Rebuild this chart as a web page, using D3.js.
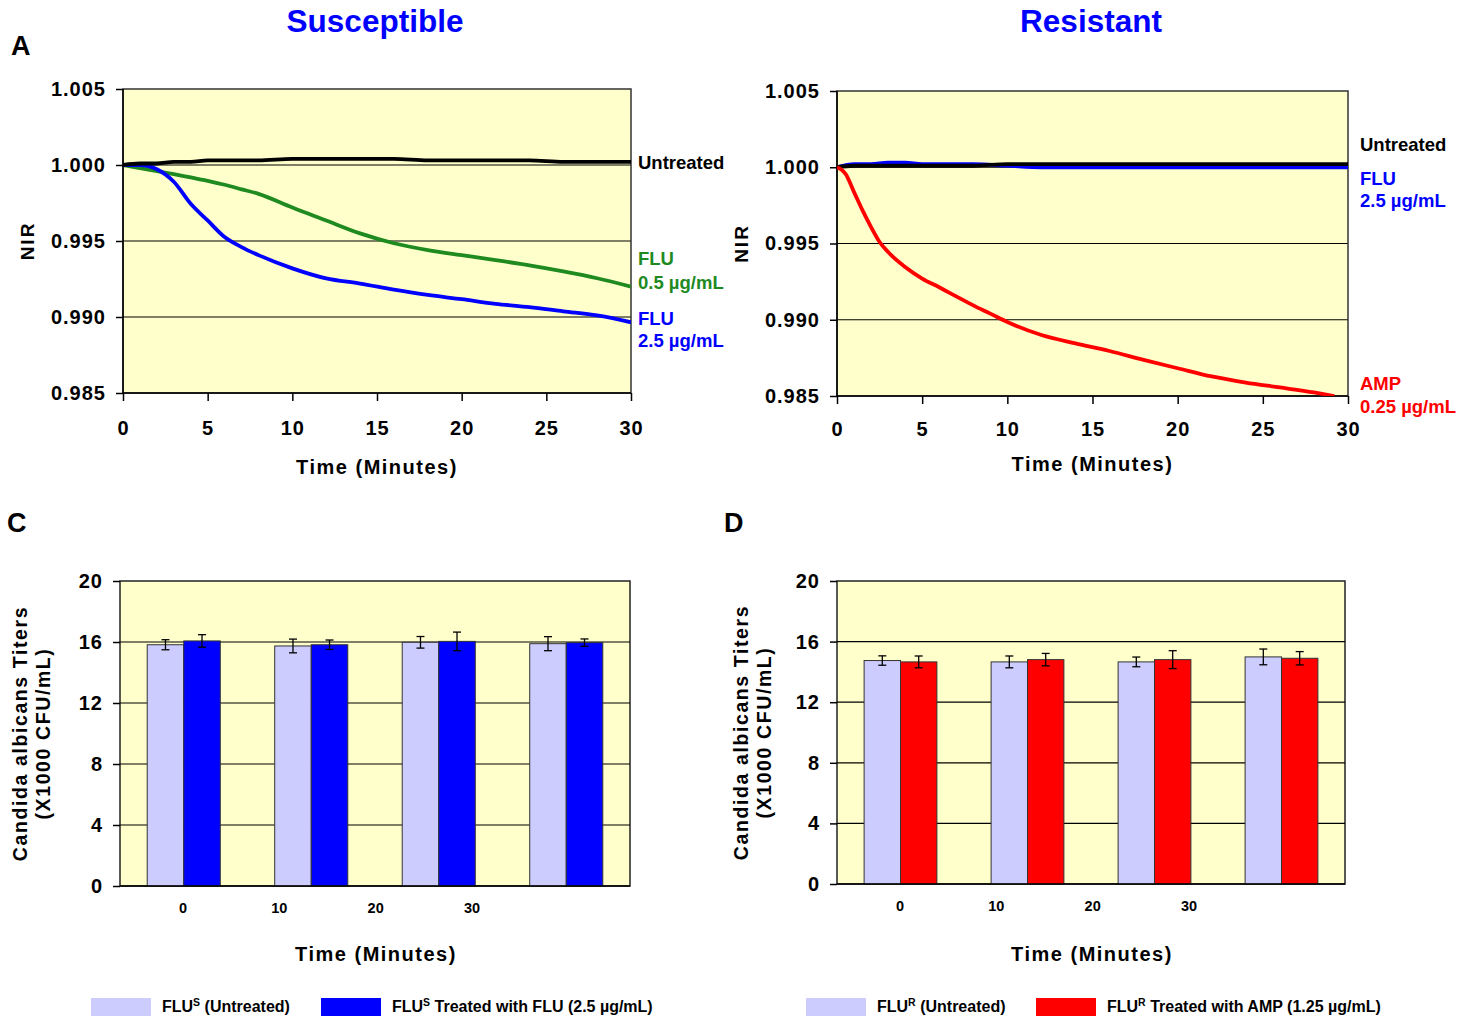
<!DOCTYPE html>
<html>
<head>
<meta charset="utf-8">
<script src="https://cdn.jsdelivr.net/npm/d3@7"></script>
<style>
  body { margin: 0; background: #fff; }
  svg { display: block; font-family: "Liberation Sans", Arial, sans-serif; font-weight: bold; }
</style>
</head>
<body>
<div id="figure"></div>
<script>
// ---- data ----
const nirTicks = [0.985, 0.990, 0.995, 1.000, 1.005];
const minuteTicks = [0, 5, 10, 15, 20, 25, 30];

// A: susceptible strain, NIR vs time
const susTime = [0, 1, 2, 3, 4, 5, 6, 7, 8, 10, 12, 14, 16, 18, 20, 22, 24, 26, 28, 30];
const susUntreated = [1.0000, 1.0001, 1.0001, 1.0002, 1.0002, 1.0003, 1.0003, 1.0003, 1.0003, 1.0004, 1.0004, 1.0004, 1.0004, 1.0003, 1.0003, 1.0003, 1.0003, 1.0002, 1.0002, 1.0002];
const susFlu05 = [1.0000, 0.9998, 0.9996, 0.9994, 0.99918, 0.99896, 0.9987, 0.9984, 0.9981, 0.9972, 0.99635, 0.9955, 0.99485, 0.9944, 0.99407, 0.99374, 0.9934, 0.9930, 0.99255, 0.9920];
const susFlu25 = [1.0000, 1.0000, 0.99972, 0.9989, 0.99745, 0.99635, 0.99526, 0.9946, 0.99407, 0.9932, 0.99254, 0.9922, 0.9918, 0.99145, 0.99117, 0.99087, 0.99065, 0.99037, 0.9901, 0.98965];

// B: resistant strain
const resTime = [0, 1, 2, 3, 4, 5, 6, 8, 10, 12, 15, 20, 25, 30];
const resUntreated = [1.0000, 1.0001, 1.0001, 1.0001, 1.0001, 1.0001, 1.0001, 1.0001, 1.0002, 1.0002, 1.0002, 1.0002, 1.0002, 1.0002];
const resFlu25 = [1.0000, 1.0002, 1.0002, 1.0003, 1.0003, 1.0002, 1.0002, 1.0002, 1.0001, 1.0000, 1.0000, 1.0000, 1.0000, 1.0000];
const ampTime = [0, 0.25, 0.5, 1, 1.5, 2, 2.5, 3, 4, 5, 6, 7, 8, 9, 10, 12, 14, 16, 18, 20, 22, 24, 26, 28, 29.2];
const resAmp = [1.0000, 0.99985, 0.99957, 0.99837, 0.99717, 0.99608, 0.9951, 0.99444, 0.99346, 0.9927, 0.99213, 0.99153, 0.99094, 0.9904, 0.98985, 0.989, 0.98845, 0.98795, 0.98737, 0.98682, 0.98628, 0.98588, 0.98556, 0.98523, 0.985];

// C / D: titers (x1000 CFU/mL)
const groups = ["g1", "g2", "g3", "g4"];
const timeLabels = [0, 10, 20, 30];
const titerTicks = [0, 4, 8, 12, 16, 20];
const susTiterUntreated = [15.82, 15.74, 15.98, 15.89];
const susTiterUntreatedErr = [0.33, 0.45, 0.38, 0.46];
const susTiterFlu = [16.07, 15.82, 16.04, 15.96];
const susTiterFluErr = [0.41, 0.31, 0.61, 0.24];
const resTiterUntreated = [14.75, 14.66, 14.66, 14.99];
const resTiterUntreatedErr = [0.31, 0.39, 0.32, 0.52];
const resTiterAmp = [14.66, 14.81, 14.81, 14.90];
const resTiterAmpErr = [0.39, 0.41, 0.59, 0.44];

const plotBg = "#ffffcc";
const lightBar = "#ccccff";

const svg = d3.select("#figure")
  .append("svg")
  .attr("width", 1473)
  .attr("height", 1019);

// titles and panel letters
svg.append("text").attr("x", 375).attr("y", 32).attr("text-anchor", "middle")
  .attr("font-size", 31.5).attr("fill", "#0000ff").text("Susceptible");
svg.append("text").attr("x", 1091).attr("y", 32).attr("text-anchor", "middle")
  .attr("font-size", 31.5).attr("fill", "#0000ff").text("Resistant");
svg.append("text").attr("x", 11).attr("y", 55).attr("font-size", 27).text("A");
svg.append("text").attr("x", 7).attr("y", 532).attr("font-size", 27).text("C");
svg.append("text").attr("x", 724).attr("y", 532).attr("font-size", 27).text("D");

function styleAxis(g, size) {
  g.select(".domain").remove();
  g.selectAll(".tick line").attr("stroke", "#000").attr("stroke-width", 1.5);
  g.selectAll(".tick text").attr("font-size", size).attr("fill", "#000")
    .attr("font-family", "'Liberation Sans', Arial, sans-serif").attr("font-weight", "bold")
    .attr("letter-spacing", "1px");
}

function nirPanel(id, b, lines, notes) {
  const x = d3.scaleLinear().domain([0, 30]).range([b.left, b.right]);
  const y = d3.scaleLinear().domain([0.985, 1.005]).range([b.bottom, b.top]);
  const g = svg.append("g");

  g.append("clipPath").attr("id", id)
    .append("rect").attr("x", b.left).attr("y", b.top)
    .attr("width", b.right - b.left).attr("height", b.bottom - b.top);

  g.append("rect")
    .attr("x", b.left).attr("y", b.top)
    .attr("width", b.right - b.left).attr("height", b.bottom - b.top)
    .attr("fill", plotBg);

  g.selectAll(".grid").data(nirTicks.slice(1, -1)).join("line")
    .attr("x1", b.left).attr("x2", b.right)
    .attr("y1", d => y(d)).attr("y2", d => y(d))
    .attr("stroke", "#000").attr("stroke-width", 1.2);

  g.append("rect")
    .attr("x", b.left).attr("y", b.top)
    .attr("width", b.right - b.left).attr("height", b.bottom - b.top)
    .attr("fill", "none").attr("stroke", "#333").attr("stroke-width", 1.5);

  const ya = g.append("g").attr("transform", `translate(${b.left},0)`)
    .call(d3.axisLeft(y).tickValues(nirTicks).tickFormat(d3.format(".3f")).tickSize(7).tickPadding(10));
  styleAxis(ya, 20);
  const xa = g.append("g").attr("transform", `translate(0,${b.bottom})`)
    .call(d3.axisBottom(x).tickValues(minuteTicks).tickSize(8).tickPadding(b.tickPad));
  styleAxis(xa, 20);

  g.append("line").attr("x1", b.left).attr("x2", b.left).attr("y1", b.top).attr("y2", b.bottom)
    .attr("stroke", "#000").attr("stroke-width", 1.5);
  g.append("line").attr("x1", b.left).attr("x2", b.right).attr("y1", b.bottom).attr("y2", b.bottom)
    .attr("stroke", "#000").attr("stroke-width", 1.5);

  const line = d3.line().x(d => x(d[0])).y(d => y(d[1])).curve(d3.curveMonotoneX);
  lines.forEach(s => {
    g.append("path")
      .datum(d3.zip(s.t, s.v))
      .attr("clip-path", `url(#${id})`)
      .attr("fill", "none")
      .attr("stroke", s.color)
      .attr("stroke-width", 3.8)
      .attr("stroke-linejoin", "round")
      .attr("d", line);
  });

  notes.forEach(n => {
    g.append("text")
      .attr("x", b.right + b.noteGap)
      .attr("y", y(n.at))
      .attr("dy", "0.35em")
      .attr("font-size", 18.5)
      .attr("fill", n.color)
      .text(n.text);
  });

  g.append("text")
    .attr("x", (b.left + b.right) / 2).attr("y", b.bottom + b.titleGap)
    .attr("text-anchor", "middle").attr("font-size", 20).attr("letter-spacing", "1.5px")
    .text("Time (Minutes)");
  g.append("text")
    .attr("transform", `translate(${b.left - 89},${(b.top + b.bottom) / 2}) rotate(-90)`)
    .attr("text-anchor", "middle").attr("font-size", 19).attr("letter-spacing", "2px")
    .text("NIR");
}

nirPanel("clipA", { left: 123, right: 631, top: 89, bottom: 393, tickPad: 20, titleGap: 81, noteGap: 7 }, [
  { t: susTime, v: susFlu05, color: "#1f8a1f" },
  { t: susTime, v: susFlu25, color: "#0000ff" },
  { t: susTime, v: susUntreated, color: "#000" }
], [
  { text: "Untreated", color: "#000", at: 1.00013 },
  { text: "FLU", color: "#1f8a1f", at: 0.99382 },
  { text: "0.5 \u00b5g/mL", color: "#1f8a1f", at: 0.99230 },
  { text: "FLU", color: "#0000ff", at: 0.98993 },
  { text: "2.5 \u00b5g/mL", color: "#0000ff", at: 0.98842 }
]);

nirPanel("clipB", { left: 837, right: 1348, top: 91, bottom: 396, tickPad: 18, titleGap: 75, noteGap: 12 }, [
  { t: resTime, v: resFlu25, color: "#0000ff" },
  { t: resTime, v: resUntreated, color: "#000" },
  { t: ampTime, v: resAmp, color: "#ff0000" }
], [
  { text: "Untreated", color: "#000", at: 1.00146 },
  { text: "FLU", color: "#0000ff", at: 0.99929 },
  { text: "2.5 \u00b5g/mL", color: "#0000ff", at: 0.99785 },
  { text: "AMP", color: "#ff0000", at: 0.98585 },
  { text: "0.25 \u00b5g/mL", color: "#ff0000", at: 0.98434 }
]);

function titerPanel(b, sets, legend) {
  const x0 = d3.scaleBand().domain(groups).range([b.left, b.right]);
  const x1 = d3.scaleBand().domain(["u", "t"]).range([0, x0.bandwidth()]).paddingOuter(0.745);
  const y = d3.scaleLinear().domain([0, 20]).range([b.bottom, b.top]);
  const lab = d3.scaleLinear().domain([0, 30]).range([b.left + 63, b.left + 352]);
  const g = svg.append("g");

  g.append("rect")
    .attr("x", b.left).attr("y", b.top)
    .attr("width", b.right - b.left).attr("height", b.bottom - b.top)
    .attr("fill", plotBg).attr("stroke", "#222").attr("stroke-width", 1.5);

  g.selectAll(".grid").data(titerTicks.slice(1, -1)).join("line")
    .attr("x1", b.left).attr("x2", b.right)
    .attr("y1", d => y(d)).attr("y2", d => y(d))
    .attr("stroke", "#000").attr("stroke-width", 1.2);

  const ya = g.append("g").attr("transform", `translate(${b.left},0)`)
    .call(d3.axisLeft(y).tickValues(titerTicks).tickSize(7).tickPadding(10));
  styleAxis(ya, 20);

  sets.forEach(s => {
    const bars = g.append("g");
    bars.selectAll("rect").data(s.v).join("rect")
      .attr("x", (d, i) => x0(groups[i]) + x1(s.key))
      .attr("y", d => y(d))
      .attr("width", x1.bandwidth())
      .attr("height", d => y(0) - y(d))
      .attr("fill", s.color)
      .attr("stroke", "#333").attr("stroke-width", 1);
    const err = bars.selectAll(".err").data(s.v).join("g")
      .attr("transform", (d, i) => `translate(${x0(groups[i]) + x1(s.key) + x1.bandwidth() / 2},0)`);
    err.append("line")
      .attr("y1", (d, i) => y(d + s.e[i])).attr("y2", (d, i) => y(d - s.e[i]))
      .attr("stroke", "#000").attr("stroke-width", 1.3);
    err.append("line").attr("x1", -4).attr("x2", 4)
      .attr("y1", (d, i) => y(d + s.e[i])).attr("y2", (d, i) => y(d + s.e[i]))
      .attr("stroke", "#000").attr("stroke-width", 1.3);
    err.append("line").attr("x1", -4).attr("x2", 4)
      .attr("y1", (d, i) => y(d - s.e[i])).attr("y2", (d, i) => y(d - s.e[i]))
      .attr("stroke", "#000").attr("stroke-width", 1.3);
  });

  g.append("line").attr("x1", b.left).attr("x2", b.right).attr("y1", b.bottom).attr("y2", b.bottom)
    .attr("stroke", "#000").attr("stroke-width", 1.5);

  g.selectAll(".tlab").data(timeLabels).join("text")
    .attr("x", d => lab(d)).attr("y", b.bottom + 27)
    .attr("text-anchor", "middle").attr("font-size", 14.5).text(d => d);

  g.append("text")
    .attr("x", (b.left + b.right) / 2 + 1).attr("y", b.top + 380)
    .attr("text-anchor", "middle").attr("font-size", 20).attr("letter-spacing", "1.5px")
    .text("Time (Minutes)");

  const yt = g.append("text")
    .attr("transform", `translate(${b.left - b.titleGap},${(b.top + b.bottom) / 2}) rotate(-90)`)
    .attr("text-anchor", "middle").attr("font-size", 19.5).attr("letter-spacing", "1.6px");
  yt.append("tspan").attr("x", 0).attr("dy", "0.35em").text("Candida albicans Titers");
  yt.append("tspan").attr("x", 0).attr("dy", "1.2em").text("(X1000 CFU/mL)");

  legend.forEach(l => {
    g.append("rect").attr("x", l.x).attr("y", 998).attr("width", 60).attr("height", 18).attr("fill", l.color);
    const t = g.append("text").attr("x", l.x + 71).attr("y", 1012).attr("font-size", 16);
    t.append("tspan").text("FLU");
    t.append("tspan").attr("font-size", 10.5).attr("dy", "-6").text(l.sup);
    t.append("tspan").attr("dy", "6").text(l.text);
  });
}

titerPanel({ left: 120, right: 630, top: 581, bottom: 886, titleGap: 100 }, [
  { key: "u", v: susTiterUntreated, e: susTiterUntreatedErr, color: lightBar },
  { key: "t", v: susTiterFlu, e: susTiterFluErr, color: "#0000ff" }
], [
  { x: 91, color: lightBar, sup: "S", text: " (Untreated)" },
  { x: 321, color: "#0000ff", sup: "S", text: " Treated with FLU (2.5 \u00b5g/mL)" }
]);

titerPanel({ left: 837, right: 1345, top: 581, bottom: 884, titleGap: 96 }, [
  { key: "u", v: resTiterUntreated, e: resTiterUntreatedErr, color: lightBar },
  { key: "t", v: resTiterAmp, e: resTiterAmpErr, color: "#ff0000" }
], [
  { x: 806, color: lightBar, sup: "R", text: " (Untreated)" },
  { x: 1036, color: "#ff0000", sup: "R", text: " Treated with AMP (1.25 \u00b5g/mL)" }
]);
</script>
</body>
</html>
